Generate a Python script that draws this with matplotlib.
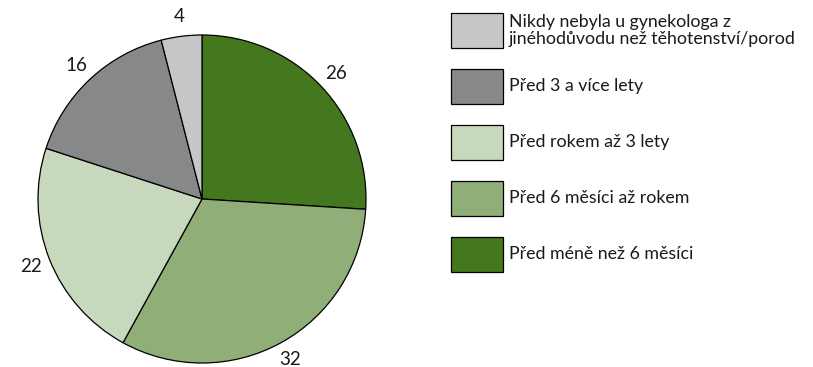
import matplotlib.pyplot as plt
from matplotlib.patches import Rectangle

# Share of respondents by time since last gynecologist visit
labels = [
    "Před méně než 6 měsíci",
    "Před 6 měsíci až rokem",
    "Před rokem až 3 lety",
    "Před 3 a více lety",
    "Nikdy nebyla u gynekologa z\njinéhodůvodu než těhotenství/porod",
]
values = [26, 32, 22, 16, 4]
colors = ["#44781e", "#8fae78", "#c8d8bc", "#87888a", "#c6c7c9"]

plt.rcParams['font.family'] = ['Lato', 'DejaVu Sans']
TEXT_COLOR = '#1a1a1a'

W, H = 813, 367
fig = plt.figure(figsize=(W / 100, H / 100), dpi=100)

# Pie centred at (202, 199) px with radius 164 px
cx, cy, r = 202, 199, 164
ax = fig.add_axes([(cx - r) / W, (H - cy - r) / H, 2 * r / W, 2 * r / H])
wedges, texts = ax.pie(
    values,
    labels=[str(v) for v in values],
    colors=colors,
    startangle=90,
    counterclock=False,
    labeldistance=1.12,
    wedgeprops=dict(edgecolor='black', linewidth=0.9),
    textprops=dict(fontsize=13.5, color=TEXT_COLOR),
)
for t in texts:
    t.set_ha('center')
    t.set_va('center')
ax.set_xlim(-1, 1)
ax.set_ylim(-1, 1)
ax.set_aspect('auto')
ax.axis('off')

# Legend drawn by hand, last slice first; positions in pixels from top-left
box_x, box_w, box_h = 451, 52, 35.5
top0, step = 12.7, 56
for i, (lab, col) in enumerate(zip(labels[::-1], colors[::-1])):
    top = top0 + i * step
    fig.patches.append(Rectangle(
        (box_x / W, (H - top - box_h) / H), box_w / W, box_h / H,
        transform=fig.transFigure, facecolor=col, edgecolor='black',
        linewidth=0.9))
    fig.text((box_x + box_w + 6) / W, (H - top - box_h / 2) / H, lab,
             ha='left', va='center', fontsize=12.8, color=TEXT_COLOR,
             linespacing=1.1)

fig.savefig('out.png', dpi=100)
